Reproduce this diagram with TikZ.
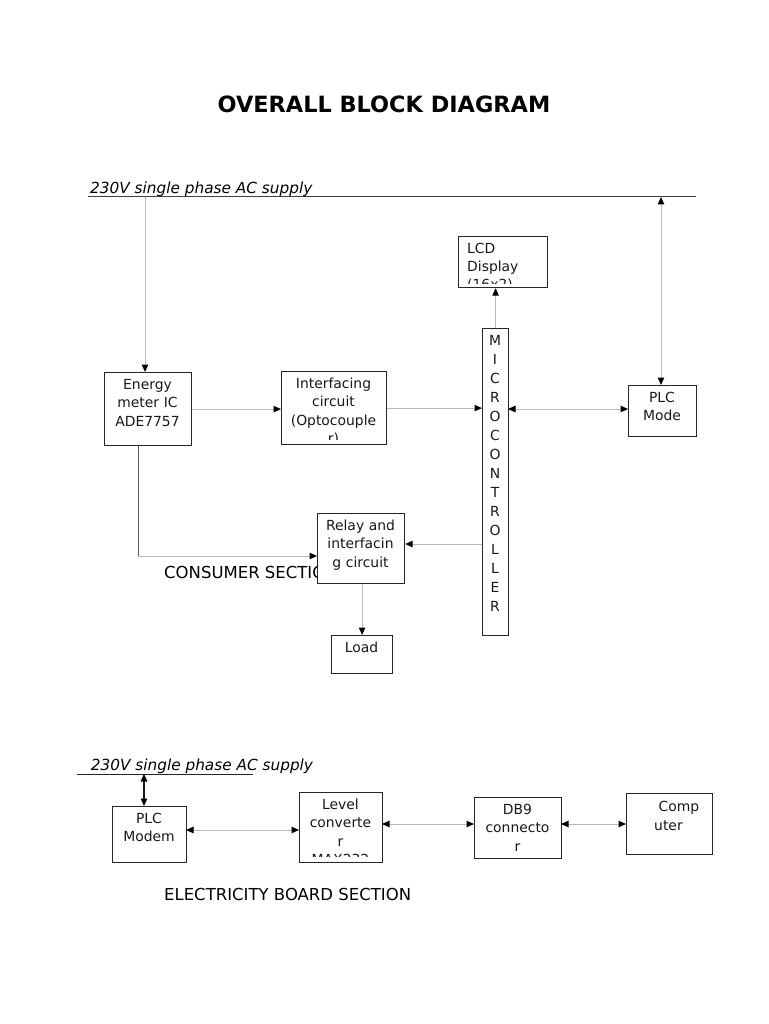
\documentclass[tikz,border=0pt]{standalone}
\usepackage{fontspec}
\setmainfont{DejaVu Sans}
\usetikzlibrary{arrows.meta}
\tikzset{
 blkbox/.style={draw=black!85, line width=1.2pt, fill=white, inner sep=0pt, anchor=north west},
 blktxt/.style={font=\fontsize{13.9}{18.4}\selectfont, inner sep=0pt, text=black!90},
 conn/.style={draw=black!28, line width=1pt, ->},
 dconn/.style={draw=black!28, line width=1pt, <->},
 supplytxt/.style={font=\fontsize{15.3}{18}\selectfont\itshape, inner sep=0pt, anchor=base west},
 secttxt/.style={font=\fontsize{16.5}{20}\selectfont, inner sep=0pt, anchor=base west},
}
\newcommand\blk[7]{%
 \pgfmathsetmacro\bw{#4-#2}%
 \pgfmathsetmacro\bh{#5-#3}%
 \node[blkbox, minimum width=\bw pt, minimum height=\bh pt] (#1) at (#2,#3) {};
 \begin{scope}
 \clip (#2,#3) rectangle (#4,{#5-#6});
 \node[blktxt, text width=\bw pt, align=center, anchor=base] at ({(#2+#4)/2},{#3+17.5}) {#7};
 \end{scope}}
\begin{document}
\begin{tikzpicture}[x=1pt,y=-1pt,>={Triangle[length=7.5pt,width=6.5pt,color=black]}]
\useasboundingbox (0,0) rectangle (768,1024);
\fill[white] (0,0) rectangle (768,1024);

% title
\node[font=\fontsize{22.4}{26}\selectfont\bfseries, inner sep=0pt, anchor=base] (title) at (384,113) {OVERALL BLOCK DIAGRAM};

% ---------------- consumer section ----------------
\node[supplytxt] (sup1) at (90,193.5) {230V single phase AC supply};
\coordinate (lineL) at (88,197);
\coordinate (lineR) at (696,197);
\draw[black!75, line width=1pt] (lineL) -- (lineR);

\node[secttxt] (cons) at (164,578.5) {CONSUMER SECTION};

\blk{ener}{104}{372}{191}{445}{0}{Energy\\meter IC\\ADE7757}
\blk{intf}{281}{371}{386}{444}{5}{Interfacing\\circuit\\(Optocouple\\r)}
\blk{relay}{317}{513}{404}{583}{0}{Relay and\\interfacin\\g circuit}
\blk{load}{331}{635}{392}{673}{0}{Load}
\blk{plc}{628}{385}{696}{436}{0}{PLC\\Mode}

% LCD (left aligned, clipped)
\node[blkbox, minimum width=89pt, minimum height=51pt] (lcd) at (458,236) {};
\begin{scope}
 \clip (458,236) rectangle (547,283);
 \node[blktxt, text width=78pt, align=left, anchor=base west] (lcdtxt) at (467,253) {LCD\\Display\\(16x2)};
\end{scope}

% microcontroller
\node[blkbox, minimum width=26pt, minimum height=307pt] (micro) at (482,328) {};
\node[blktxt, font=\fontsize{13.9}{19.05}\selectfont, text width=26pt, align=center, anchor=base] (microtxt) at (495,345)
 {M\\I\\C\\R\\O\\C\\O\\N\\T\\R\\O\\L\\L\\E\\R};

% connectors
\coordinate (s1) at (145,197);
\coordinate (s2) at (661,197);
\draw[conn] (s1) -- (s1 |- ener.north);
\draw[conn] (ener.east) -- (ener.east -| intf.west);
\draw[conn] (intf.east) -- (intf.east -| micro.west);
\draw[conn] (micro.north) -- (micro.north |- lcd.south);
\coordinate (mp) at (508,409);
\draw[dconn] (mp) -- (mp -| plc.west);
\draw[dconn] (s2) -- (s2 |- plc.north);
\coordinate (mr) at (482,544);
\draw[conn] (mr) -- (mr -| relay.east);
\coordinate (ebend) at (138,556);
\draw[black!65, line width=1pt] (ener.south -| ebend) -- (ebend);
\draw[conn] (ebend) -- (ebend -| relay.west);
\draw[conn] (relay.south -| load.north) -- (load.north);

% ---------------- electricity board section ----------------
\node[supplytxt] (sup2) at (90.7,770) {230V single phase AC supply};
\coordinate (ulL) at (77,774);
\coordinate (ulR) at (253,774);
\draw[black!85, line width=1pt] (ulL) -- (ulR);

\blk{modem}{112}{806}{186}{862}{0}{PLC\\Modem}
\blk{level}{299}{792}{382}{862}{6}{Level\\converte\\r\\MAX232}
\blk{db}{474}{797}{561}{858}{0}{DB9\\connecto\\r}

% computer (left aligned)
\node[blkbox, minimum width=86pt, minimum height=61pt] (comp) at (626,793) {};
\node[blktxt, text width=55pt, align=left, anchor=base west] (comptxt) at (654,811.7) {\hspace*{4.5pt}Comp\\uter};

\coordinate (s3) at (144,774);
\draw[black!90, line width=1.3pt, <->] (s3) -- (s3 |- modem.north);
\coordinate (ml) at (186,830);
\draw[dconn] (ml) -- (ml -| level.west);
\coordinate (ld) at (382,824);
\draw[dconn] (ld) -- (ld -| db.west);
\coordinate (dc) at (561,824);
\draw[dconn] (dc) -- (dc -| comp.west);

\node[secttxt] (eb) at (164,900) {ELECTRICITY BOARD SECTION};
\end{tikzpicture}
\end{document}
